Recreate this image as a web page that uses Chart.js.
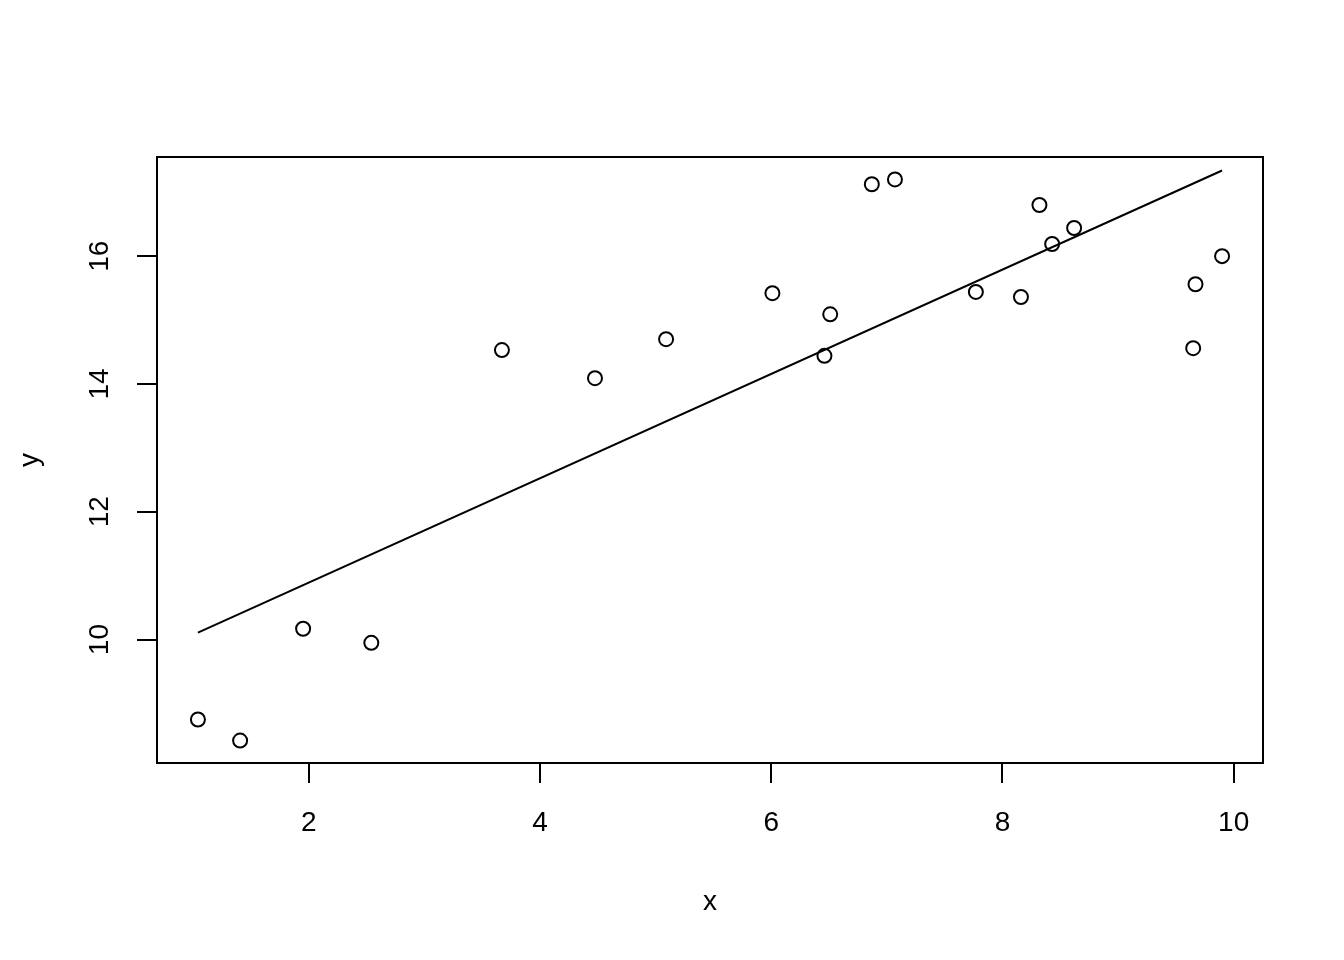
<!DOCTYPE html>
<html>
<head>
<meta charset="utf-8">
<script src="https://cdn.jsdelivr.net/npm/chart.js@4/dist/chart.umd.min.js"></script>
<style>
html,body{margin:0;padding:0;background:#fff;}
#wrap{width:1344px;height:960px;}
</style>
</head>
<body>
<div id="wrap"><canvas id="c" width="1344" height="960"></canvas></div>
<script>
const xValues = [1.04, 1.405, 1.95, 2.54, 3.67, 4.475, 5.09, 6.01, 6.46, 6.51, 6.87, 7.07, 7.77, 8.16, 8.32, 8.43, 8.62, 9.65, 9.67, 9.90];
const yValues = [8.75, 8.42, 10.17, 9.95, 14.53, 14.09, 14.70, 15.42, 14.44, 15.09, 17.125, 17.20, 15.44, 15.36, 16.80, 16.19, 16.44, 14.56, 15.56, 16.00];
const fitX = [1.04, 9.90];
const fitY = [10.11, 17.34];
const xTicks = [2, 4, 6, 8, 10];
const yTicks = [10, 12, 14, 16];
const xRange = [0.686, 10.254];
const yRange = [8.069, 17.551];

const FONT = {family: "'Liberation Sans', Arial, Helvetica, sans-serif", size: 28};

const boxPlugin = {
  id: 'box',
  afterDraw(chart) {
    const {ctx, chartArea: a} = chart;
    ctx.save();
    ctx.strokeStyle = '#000';
    ctx.lineWidth = 2;
    ctx.strokeRect(a.left, a.top, a.right - a.left, a.bottom - a.top);
    ctx.restore();
  }
};

new Chart(document.getElementById('c'), {
  type: 'scatter',
  data: {
    datasets: [
      {
        data: xValues.map((x, i) => ({x: x, y: yValues[i]})),
        showLine: false,
        pointStyle: 'circle',
        pointRadius: 7,
        pointBorderWidth: 2,
        pointBorderColor: '#000',
        pointBackgroundColor: 'rgba(0,0,0,0)',
        pointHoverRadius: 7
      },
      {
        type: 'line',
        data: fitX.map((x, i) => ({x: x, y: fitY[i]})),
        borderColor: '#000',
        borderWidth: 2,
        pointRadius: 0,
        fill: false
      }
    ]
  },
  options: {
    responsive: false,
    animation: false,
    events: [],
    layout: {padding: {top: 157, right: 81, left: 0, bottom: 0}},
    plugins: {legend: {display: false}, tooltip: {enabled: false}},
    scales: {
      x: {
        type: 'linear',
        min: xRange[0], max: xRange[1],
        afterBuildTicks: s => { s.ticks = xTicks.map(v => ({value: v})); },
        afterFit: s => { s.height = 197; },
        border: {display: false},
        grid: {drawOnChartArea: false, drawTicks: true, tickLength: 20, color: '#000', lineWidth: 2},
        ticks: {autoSkip: false, color: '#000', font: FONT, padding: 23, maxRotation: 0, minRotation: 0},
        title: {display: true, text: 'x', color: '#000', font: FONT, padding: {top: 0, bottom: 41}}
      },
      y: {
        type: 'linear',
        min: yRange[0], max: yRange[1],
        afterBuildTicks: s => { s.ticks = yTicks.map(v => ({value: v})); },
        afterFit: s => { s.width = 157; },
        border: {display: false},
        grid: {drawOnChartArea: false, drawTicks: true, tickLength: 20, color: '#000', lineWidth: 2},
        ticks: {autoSkip: false, color: '#000', font: FONT, padding: 21, minRotation: 90, maxRotation: 90, crossAlign: 'center'},
        title: {display: true, text: 'y', color: '#000', font: FONT, padding: {top: 13, bottom: 0}}
      }
    }
  },
  plugins: [boxPlugin]
});
</script>
</body>
</html>
